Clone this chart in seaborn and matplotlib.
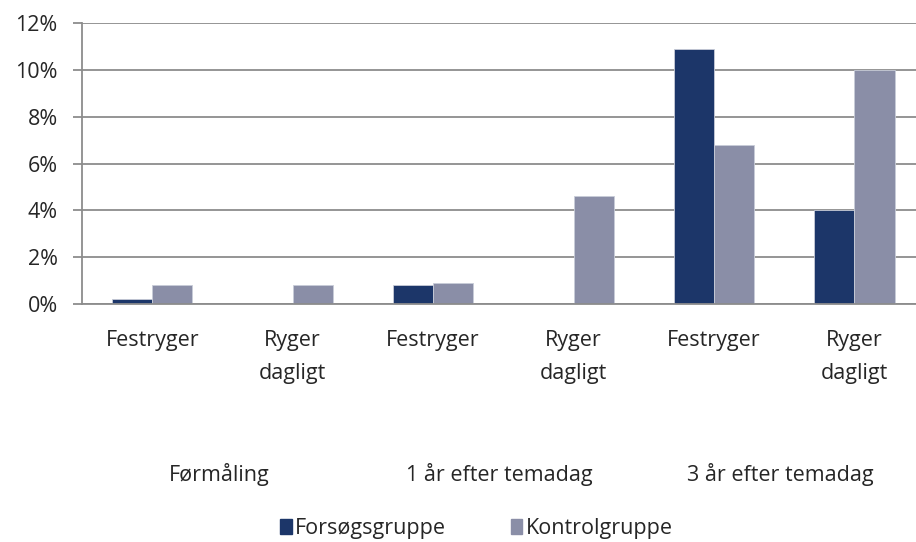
import pandas as pd
import numpy as np
import seaborn as sns
import matplotlib.pyplot as plt
from matplotlib.ticker import PercentFormatter

# data (percent)
categories = ['Festryger', 'Ryger\ndagligt', 'Festryger', 'Ryger\ndagligt', 'Festryger', 'Ryger\ndagligt']
groups = ['Førmåling', '1 år efter temadag', '3 år efter temadag']
forsog = [0.2, 0.0, 0.8, 0.0, 10.9, 4.0]
kontrol = [0.8, 0.8, 0.9, 4.6, 6.8, 10.0]
series = ['Forsøgsgruppe', 'Kontrolgruppe']
colors = ['#1c3669', '#8a8ea7']

df = pd.DataFrame({
    'pos': list(range(6)) * 2,
    'value': forsog + kontrol,
    'serie': [series[0]] * 6 + [series[1]] * 6,
})

sns.set_style('white')
plt.rcParams['font.family'] = ['Open Sans', 'DejaVu Sans']
fs = 15.5

fig = plt.figure(figsize=(9.16, 5.42), dpi=100)
ax = fig.add_axes([0.0895, 0.439, 0.920, 0.518])

sns.barplot(data=df, x='pos', y='value', hue='serie', palette=colors,
            width=0.57, gap=0, saturation=1, ax=ax, legend=False,
            edgecolor='#c8ccd8', linewidth=0.6)

ax.set_ylim(0, 12)
ax.set_xlim(-0.5, 5.5)
ax.set_yticks(range(0, 13, 2))
ax.yaxis.set_major_formatter(PercentFormatter(decimals=0))
ax.yaxis.grid(True, color='#8c8c8c', linewidth=1.3)
ax.set_axisbelow(True)
for s in ['top', 'right']:
    ax.spines[s].set_visible(False)
for s in ['left', 'bottom']:
    ax.spines[s].set_color('#8c8c8c')
    ax.spines[s].set_linewidth(1.3)

ax.set_xticks(range(6))
ax.set_xticklabels(categories, fontsize=fs, linespacing=1.75)
ax.tick_params(axis='x', length=0, pad=19)
ax.tick_params(axis='y', length=6.5, width=1.3, color='#8c8c8c', labelsize=fs, pad=11, left=True)
ax.set_xlabel('')
ax.set_ylabel('')

for i, g in enumerate(groups):
    xf = (0.0895 + (2 * i + 1) * 0.920 / 6) - 0.004
    fig.text(xf, 0.125, g, ha='center', va='center', fontsize=fs)

handles = [plt.Rectangle((0, 0), 1, 1, color=c) for c in colors]
fig.legend(handles, series, loc='center', bbox_to_anchor=(0.52, 0.024), ncol=2,
           frameon=False, fontsize=fs, handlelength=0.55, handleheight=0.7,
           handletextpad=0.15, columnspacing=3.0)

fig.savefig('out.png', dpi=100)
